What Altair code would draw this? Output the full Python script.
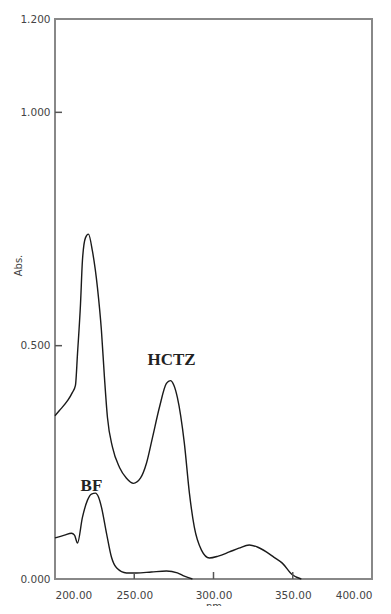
import altair as alt
import pandas as pd

# HCTZ spectrum (upper curve)
hctz_nm = [200.0, 202.8, 207.9, 211.0, 212.9, 214.2, 216.1, 217.3, 219.2, 221.1, 223.6, 226.8,
           229.3, 231.2, 233.1, 236.3, 240.7, 245.1, 249.5, 253.9, 257.7, 261.5, 265.9,
           270.3, 272.8, 275.0, 277.2, 281.6, 284.8, 287.9, 292.4, 297.4, 303.0, 310.0, 316.0,
           322.6, 328.0, 333.3, 338.0, 343.4, 349.7, 355.4]
hctz_abs = [0.350, 0.361, 0.382, 0.400, 0.415, 0.483, 0.590, 0.682, 0.731, 0.739, 0.703, 0.624,
            0.532, 0.432, 0.346, 0.282, 0.239, 0.216, 0.205, 0.216, 0.248, 0.303, 0.368,
            0.419, 0.425, 0.415, 0.389, 0.291, 0.184, 0.111, 0.062, 0.045, 0.049, 0.058, 0.066,
            0.073, 0.068, 0.058, 0.047, 0.034, 0.009, 0.000]

# BF spectrum (lower curve)
bf_nm = [200.0, 206.0, 210.4, 212.3, 214.2, 217.3, 220.5, 223.0, 225.5, 227.5, 229.3, 232.5,
         235.6, 238.8, 245.1, 251.4, 260.8, 270.3, 277.2, 281.6, 286.7]
bf_abs = [0.088, 0.094, 0.098, 0.094, 0.077, 0.132, 0.169, 0.182, 0.184, 0.175, 0.154, 0.098,
          0.047, 0.024, 0.013, 0.013, 0.015, 0.017, 0.013, 0.006, 0.000]

label_text = ["HCTZ", "BF"]
label_nm = [273.5, 223.0]
label_abs = [0.470, 0.199]

x_tick_values = [200, 250, 300, 350, 400]
y_tick_values = [0.0, 0.5, 1.0, 1.2]
x_inner_ticks = [250, 300, 350]
y_inner_ticks = [0.5, 1.0]

W, H = 317, 560

df = pd.concat([
    pd.DataFrame({"nm": hctz_nm, "abs": hctz_abs, "series": "HCTZ"}),
    pd.DataFrame({"nm": bf_nm, "abs": bf_abs, "series": "BF"}),
])
labels = pd.DataFrame({"text": label_text, "nm": label_nm, "abs": label_abs})

xscale = alt.Scale(domain=[200, 400], nice=False, zero=False)
yscale = alt.Scale(domain=[0, 1.2], nice=False, zero=False)

xaxis = alt.Axis(values=x_tick_values, format=".2f", ticks=False, tickSize=0, domain=False,
                 grid=False, labelPadding=11, labelFont="DejaVu Sans", labelFontSize=10.5,
                 labelColor="#444", title="nm", titleFont="DejaVu Sans", titleFontSize=10,
                 titleFontWeight="normal", titleColor="#444", titlePadding=1)
yaxis = alt.Axis(values=y_tick_values, format=".3f", ticks=False, tickSize=0, domain=False,
                 grid=False, labelPadding=5, labelFont="DejaVu Sans", labelFontSize=10.5,
                 labelColor="#444", title="Abs.", titleFont="DejaVu Sans", titleFontSize=10,
                 titleFontWeight="normal", titleColor="#444", titleX=-37, titleY=246,
                 titleAlign="center", titleBaseline="middle", titleAngle=-90)

lines = alt.Chart(df).mark_line(color="#1a1a1a", strokeWidth=1.4, interpolate="monotone").encode(
    x=alt.X("nm:Q", scale=xscale, axis=xaxis),
    y=alt.Y("abs:Q", scale=yscale, axis=yaxis),
    detail="series:N",
)

text = alt.Chart(labels).mark_text(font="Liberation Serif", fontWeight="bold", fontSize=17,
                                   color="#222", baseline="middle", align="center").encode(
    x=alt.X("nm:Q", scale=xscale),
    y=alt.Y("abs:Q", scale=yscale),
    text="text:N",
)

xt = alt.Chart(pd.DataFrame({"nm": x_inner_ticks})).mark_rule(color="#555", strokeWidth=1.5).encode(
    x=alt.X("nm:Q", scale=xscale),
    y=alt.value(H),
    y2=alt.value(H - 7),
)
yt = alt.Chart(pd.DataFrame({"abs": y_inner_ticks})).mark_rule(color="#555", strokeWidth=1.5).encode(
    y=alt.Y("abs:Q", scale=yscale),
    x=alt.value(0),
    x2=alt.value(7),
)

chart = alt.layer(lines, xt, yt, text).properties(
    width=W, height=H,
    autosize=alt.AutoSizeParams(type="none"),
    padding={"left": 47, "top": 11, "right": 11, "bottom": 27},
    background="white",
).configure_view(stroke="#888", strokeWidth=2)

chart.save("out.html", embed_options={"renderer": "svg", "actions": False})
